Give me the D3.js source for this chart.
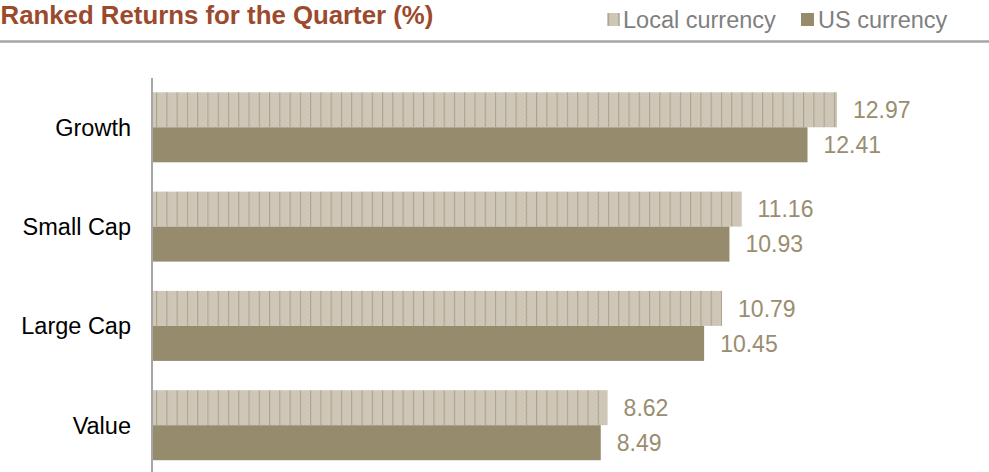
<!DOCTYPE html>
<html>
<head>
<meta charset="utf-8">
<script src="https://cdn.jsdelivr.net/npm/d3@7"></script>
<style>
  html, body { margin: 0; padding: 0; background: #fff; }
  svg { display: block; }
  text { font-family: Arial, "Liberation Sans", sans-serif; }
</style>
</head>
<body>
<svg id="chart" width="989" height="472"></svg>
<script>
const categories = ["Growth", "Small Cap", "Large Cap", "Value"];
const seriesNames = ["Local currency", "US currency"];
const localValues = [12.97, 11.16, 10.79, 8.62];
const usValues = [12.41, 10.93, 10.45, 8.49];
const valueLabels = [["12.97","12.41"],["11.16","10.93"],["10.79","10.45"],["8.62","8.49"]];

const W = 989, H = 472;
const svg = d3.select("#chart");
const defs = svg.append("defs");

// hatch pattern for local currency
const pat = defs.append("pattern")
  .attr("id", "localPat")
  .attr("patternUnits", "userSpaceOnUse")
  .attr("x", 2.0).attr("y", 0)
  .attr("width", 10.27).attr("height", 4);
pat.append("rect").attr("width", 10.27).attr("height", 4).attr("fill", "#cfc8b9");
pat.append("rect").attr("x", 1).attr("y", 0).attr("width", 1).attr("height", 1).attr("fill", "#c6bead");
pat.append("rect").attr("x", 3).attr("y", 2).attr("width", 1).attr("height", 1).attr("fill", "#c6bead");
pat.append("rect").attr("x", 5).attr("y", 0).attr("width", 1).attr("height", 1).attr("fill", "#c6bead");
pat.append("rect").attr("x", 7).attr("y", 2).attr("width", 1).attr("height", 1).attr("fill", "#c6bead");
pat.append("rect").attr("x", 0).attr("y", 0).attr("width", 1.1).attr("height", 4).attr("fill", "#ada38b");

const usColor = "#978b6e";
const labelColor = "#9a8d6f";

// title
svg.append("text")
  .attr("x", 0.5).attr("y", 23.5)
  .attr("font-size", 25.8).attr("font-weight", "bold")
  .attr("fill", "#9b4a2e")
  .text("Ranked Returns for the Quarter (%)");

// separator
svg.append("line")
  .attr("x1", 0).attr("x2", W).attr("y1", 41.5).attr("y2", 41.5)
  .attr("stroke", "#a6a6a6").attr("stroke-width", 2.5);

// legend
const legend = [
  { name: seriesNames[0], fill: "url(#localPat)", sx: 607, tx: 623 },
  { name: seriesNames[1], fill: usColor, sx: 801, tx: 818 }
];
legend.forEach(l => {
  svg.append("rect").attr("x", l.sx).attr("y", 13).attr("width", 13).attr("height", 13).attr("fill", l.fill);
  svg.append("text").attr("x", l.tx).attr("y", 27.5)
    .attr("font-size", 23.5).attr("fill", "#7f7f7f").text(l.name);
});

// scales
const x0 = 153;
const x = d3.scaleLinear().domain([0, 14]).range([x0, x0 + 14 * 52.74]);
const y = d3.scaleBand().domain(categories).range([62.5, 490]).paddingInner(0.295).paddingOuter(0.3);
const ySub = d3.scaleBand().domain(["local", "us"]).range([0, y.bandwidth()]);

const rows = categories.map((c, i) => ({ cat: c, local: localValues[i], us: usValues[i], labs: valueLabels[i] }));

const g = svg.append("g");
rows.forEach(r => {
  const gy = y(r.cat);
  [["local", r.local, "url(#localPat)", r.labs[0]], ["us", r.us, usColor, r.labs[1]]].forEach(([k, v, fill, lab]) => {
    g.append("rect")
      .attr("x", x(0)).attr("y", gy + ySub(k))
      .attr("width", x(v) - x(0)).attr("height", ySub.bandwidth())
      .attr("fill", fill);
    g.append("text")
      .attr("x", x(v) + 16).attr("y", gy + ySub(k) + ySub.bandwidth() / 2)
      .attr("dy", "0.36em")
      .attr("font-size", 23).attr("fill", labelColor)
      .text(lab);
  });
});

// y axis (category labels)
const yAxis = d3.axisLeft(y).tickSize(0).tickPadding(21);
const ax = svg.append("g").attr("transform", `translate(${x0 - 1},0)`).call(yAxis);
ax.select(".domain").remove();
ax.selectAll("text").attr("font-size", 23.5).attr("fill", "#000")
  .attr("font-family", "Arial, 'Liberation Sans', sans-serif").attr("dy", "0.36em");
svg.append("line").attr("x1", x0 - 1).attr("x2", x0 - 1).attr("y1", 78).attr("y2", H)
  .attr("stroke", "#a6a6a6").attr("stroke-width", 2);
</script>
</body>
</html>
